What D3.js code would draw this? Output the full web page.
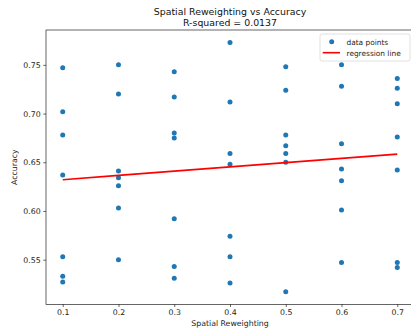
<!DOCTYPE html>
<html>
<head>
<meta charset="utf-8">
<script src="https://cdn.jsdelivr.net/npm/d3@7"></script>
<style>
  html, body { margin: 0; padding: 0; background: #fff; }
  svg { display: block; font-family: "DejaVu Sans", sans-serif; }
</style>
</head>
<body>
<svg id="chart" width="411" height="328"></svg>
<script>
// Spatial reweighting settings (x) and the accuracy observed for each run (y)
const reweightLevels = [0.1, 0.2, 0.3, 0.4, 0.5, 0.6, 0.7];
const accuracyRuns = [
  [0.747, 0.702, 0.678, 0.637, 0.553, 0.533, 0.527],
  [0.750, 0.720, 0.641, 0.634, 0.626, 0.603, 0.550],
  [0.743, 0.717, 0.680, 0.675, 0.592, 0.543, 0.531],
  [0.773, 0.712, 0.659, 0.648, 0.574, 0.553, 0.526],
  [0.748, 0.724, 0.678, 0.667, 0.659, 0.650, 0.517],
  [0.750, 0.728, 0.669, 0.643, 0.631, 0.601, 0.547],
  [0.736, 0.726, 0.710, 0.676, 0.642, 0.547, 0.542]
];
const xTicks = [0.1, 0.2, 0.3, 0.4, 0.5, 0.6, 0.7];
const yTicks = [0.55, 0.60, 0.65, 0.70, 0.75];
const titleLines = ["Spatial Reweighting vs Accuracy", "R-squared = 0.0137"];
const legendLabels = ["data points", "regression line"];

const points = [];
reweightLevels.forEach((x, i) => accuracyRuns[i].forEach(y => points.push({ x, y })));

// Ordinary least squares fit
const mx = d3.mean(points, d => d.x), my = d3.mean(points, d => d.y);
const slope = d3.sum(points, d => (d.x - mx) * (d.y - my)) / d3.sum(points, d => (d.x - mx) ** 2);
const intercept = my - slope * mx;
const fit = reweightLevels.map(x => ({ x, y: intercept + slope * x }));

const svg = d3.select("#chart");
const plot = { left: 46, right: 414, top: 30, bottom: 304.3 };

const pad = (lo, hi) => { const m = (hi - lo) * 0.05; return [lo - m, hi + m]; };
const [xLo, xHi] = pad(d3.min(points, d => d.x), d3.max(points, d => d.x));
const [yLo, yHi] = pad(d3.min(points, d => d.y), d3.max(points, d => d.y));
const x = d3.scaleLinear().domain([xLo, xHi]).range([plot.left, plot.right]);
const y = d3.scaleLinear().domain([yLo, yHi]).range([plot.bottom, plot.top]);

// Axes
const xAxis = d3.axisBottom(x).tickValues(xTicks).tickFormat(d3.format(".1f"))
  .tickSizeInner(2.7).tickSizeOuter(0).tickPadding(2.6);
const yAxis = d3.axisLeft(y).tickValues(yTicks).tickFormat(d3.format(".2f"))
  .tickSizeInner(2.7).tickSizeOuter(0).tickPadding(2.6);

const gx = svg.append("g").attr("transform", `translate(0,${plot.bottom})`).call(xAxis);
const gy = svg.append("g").attr("transform", `translate(${plot.left},0)`).call(yAxis);
[gx, gy].forEach(g => {
  g.select(".domain").remove();
  g.selectAll(".tick line").attr("stroke", "#000").attr("stroke-width", 0.6);
  g.selectAll(".tick text").attr("fill", "#222").attr("font-size", 7.8)
    .attr("font-family", "DejaVu Sans, sans-serif");
});

// Frame
svg.append("rect")
  .attr("x", plot.left).attr("y", plot.top)
  .attr("width", plot.right - plot.left).attr("height", plot.bottom - plot.top)
  .attr("fill", "none").attr("stroke", "#000").attr("stroke-width", 0.6);

// Scatter points
svg.append("g").selectAll("circle").data(points).join("circle")
  .attr("cx", d => x(d.x)).attr("cy", d => y(d.y)).attr("r", 2.5)
  .attr("fill", "#1f77b4");

// Regression line
svg.append("path").datum(fit)
  .attr("d", d3.line().x(d => x(d.x)).y(d => y(d.y)))
  .attr("fill", "none").attr("stroke", "red").attr("stroke-width", 1.6);

// Titles and axis labels
const cx = (plot.left + plot.right) / 2;
svg.append("text").attr("x", cx).attr("y", 14.5).attr("text-anchor", "middle")
  .attr("font-size", 9.4).attr("fill", "#111").text(titleLines[0]);
svg.append("text").attr("x", cx).attr("y", 25.8).attr("text-anchor", "middle")
  .attr("font-size", 9.4).attr("fill", "#111").text(titleLines[1]);
svg.append("text").attr("x", cx).attr("y", 326).attr("text-anchor", "middle")
  .attr("font-size", 7.8).attr("fill", "#222").text("Spatial Reweighting");
svg.append("text").attr("transform", `translate(16.8,${(plot.top + plot.bottom) / 2}) rotate(-90)`)
  .attr("text-anchor", "middle").attr("font-size", 7.8).attr("fill", "#222").text("Accuracy");

// Legend
const lg = svg.append("g").attr("transform", "translate(320,34)");
lg.append("rect").attr("width", 90).attr("height", 27).attr("rx", 2)
  .attr("fill", "rgba(255,255,255,0.8)").attr("stroke", "#ccc").attr("stroke-width", 0.6);
lg.append("circle").attr("cx", 11.7).attr("cy", 7.7).attr("r", 2.5).attr("fill", "#1f77b4");
lg.append("line").attr("x1", 2.7).attr("x2", 20).attr("y1", 18.7).attr("y2", 18.7)
  .attr("stroke", "red").attr("stroke-width", 1.6);
lg.selectAll("text.lbl").data(legendLabels).join("text").attr("class", "lbl")
  .attr("x", 26.5).attr("y", (d, i) => 10.5 + i * 11)
  .attr("font-size", 7.4).attr("fill", "#222").text(d => d);
</script>
</body>
</html>
